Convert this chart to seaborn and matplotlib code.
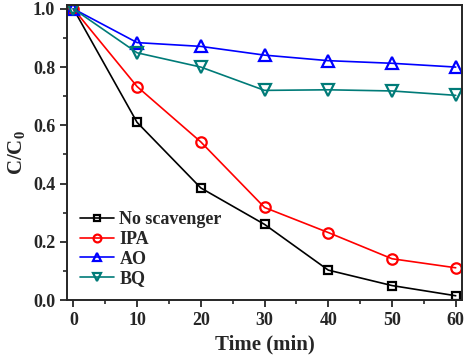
import matplotlib
matplotlib.use('Agg')
import matplotlib.pyplot as plt
import seaborn as sns
from matplotlib.ticker import MultipleLocator, FormatStrFormatter

time_min = [0, 10, 20, 30, 40, 50, 60]
no_scavenger = [1.0, 0.61, 0.385, 0.26, 0.103, 0.05, 0.015]
ipa = [1.0, 0.733, 0.543, 0.318, 0.232, 0.142, 0.111]
ao = [1.0, 0.884, 0.871, 0.841, 0.822, 0.813, 0.800]
bq = [1.0, 0.849, 0.80, 0.72, 0.722, 0.718, 0.703]

labels = ['No scavenger', 'IPA', 'AO', 'BQ']
colors = ['black', 'red', 'blue', '#007b78']
markers = ['s', 'o', '^', 'v']
msizes = [6, 7.5, 8, 8]

sns.set_style('ticks')
plt.rcParams['font.family'] = ['Liberation Serif', 'DejaVu Serif']
plt.rcParams['font.weight'] = 'bold'
plt.rcParams['mathtext.fontset'] = 'custom'
plt.rcParams['mathtext.rm'] = 'Liberation Serif:bold'
plt.rcParams['mathtext.it'] = 'Liberation Serif:bold'

fig = plt.figure(figsize=(4.67, 3.59), dpi=100)
ax = fig.add_axes([0.1435, 0.164, 0.846, 0.822])

for lab, vals, col, mk, ms in zip(labels, [no_scavenger, ipa, ao, bq], colors, markers, msizes):
    sns.lineplot(x=time_min, y=vals, color=col, marker=mk, markersize=ms,
                 markerfacecolor='none', markeredgecolor=col, markeredgewidth=1.6,
                 linewidth=1.2, label=lab, ax=ax)

ax.set_xlim(-1, 61)
ax.set_ylim(0, 1.013)
ax.xaxis.set_major_locator(MultipleLocator(10))
ax.xaxis.set_minor_locator(MultipleLocator(5))
ax.yaxis.set_major_locator(MultipleLocator(0.2))
ax.yaxis.set_minor_locator(MultipleLocator(0.1))
ax.yaxis.set_major_formatter(FormatStrFormatter('%.1f'))
ax.tick_params(which='major', direction='out', length=5, width=1.3, labelsize=13)
ax.tick_params(which='minor', direction='out', length=3, width=1.2)
for lbl in ax.get_xticklabels() + ax.get_yticklabels():
    lbl.set_fontweight('bold')
for sp in ax.spines.values():
    sp.set_visible(True)
    sp.set_linewidth(1.4)

ax.set_xlabel('Time (min)', fontsize=15, fontweight='bold')
ax.set_ylabel('C/C$_0$', fontsize=15, fontweight='bold')

ax.legend(loc='lower left', frameon=False, handlelength=1.9, handletextpad=0.3,
          labelspacing=0.15, borderaxespad=0.3, markerscale=0.75,
          prop={'weight': 'bold', 'size': 13})

fig.savefig('out.png', dpi=100)
